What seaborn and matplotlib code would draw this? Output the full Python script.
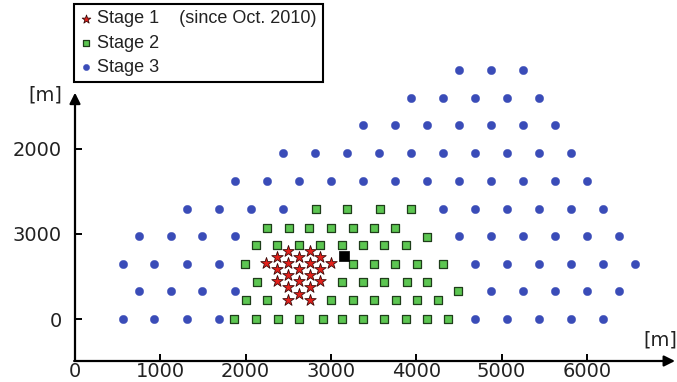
import numpy as np
import pandas as pd
import matplotlib
matplotlib.use("Agg")
import matplotlib.pyplot as plt
import seaborn as sns

# ---------------- data (metres) ----------------
# Stage 3 (blue circles): one list of x per row, row y values
stage3_rows_y = [2919, 2595, 2272, 1947, 1623, 1297, 970, 648, 326, 0]
stage3_rows_x = [
    [4505, 4877, 5248],
    [3939, 4318, 4689, 5068, 5443],
    [3373, 3751, 4130, 4505, 4877, 5252, 5627],
    [2435, 2814, 3192, 3564, 3939, 4318, 4689, 5068, 5443, 5815],
    [1876, 2251, 2626, 3001, 3376, 3751, 4126, 4502, 4877, 5252, 5627, 6002],
    [1317, 1688, 2063, 2435, 4318, 4689, 5068, 5443, 5815, 6190],
    [750, 1122, 1493, 1876, 4505, 4877, 5252, 5627, 6002, 6382],
    [563, 930, 1317, 1688, 4689, 5068, 5443, 5815, 6190, 6565],
    [750, 1122, 1493, 1876, 4877, 5252, 5627, 6002, 6382],
    [563, 930, 1317, 1688, 4693, 5068, 5443, 5815, 6190],
]

# Stage 2 (green squares)
stage2_rows_y = [1292, 1073, 967, 867, 648, 437, 331, 224, 0]
stage2_rows_x = [
    [2821, 3188, 3579, 3942],
    [2254, 2505, 2747, 3001, 3255, 3501, 3747],
    [4126],
    [2122, 2368, 2622, 2872, 3126, 3373, 3618, 3876],
    [1998, 3259, 3505, 3751, 4009, 4318],
    [2137, 3134, 3376, 3622, 3888, 4126],
    [4490],
    [2005, 2251, 3001, 3255, 3505, 3763, 4005, 4259],
    [1869, 2125, 2376, 2626, 2911, 3134, 3380, 3626, 3877, 4126, 4376],
]

# Stage 1 (red stars)
stage1_rows_y = [803, 733, 659, 589, 519, 445, 375, 296, 226]
stage1_rows_x = [
    [2497, 2751],
    [2368, 2622, 2876],
    [2243, 2497, 2751, 3005],
    [2368, 2622, 2876],
    [2497, 2751],
    [2368, 2622, 2876],
    [2497, 2751],
    [2622],
    [2497, 2751],
]

# black square
center_x = [3154]
center_y = [742]

y_ticks = [0, 1000, 2000]
y_tick_labels = ["0", "3000", "2000"]
x_ticks = [0, 1000, 2000, 3000, 4000, 5000, 6000]
x_tick_labels = ["0", "1000", "2000", "3000", "4000", "5000", "6000"]

legend_labels = ["Stage 1    (since Oct. 2010)", "Stage 2", "Stage 3"]


def rows_to_df(rows_y, rows_x, name):
    xs, ys = [], []
    for yv, xl in zip(rows_y, rows_x):
        xs.extend(xl)
        ys.extend([yv] * len(xl))
    return pd.DataFrame({"x": xs, "y": ys, "stage": name})


df1 = rows_to_df(stage1_rows_y, stage1_rows_x, "Stage 1")
df2 = rows_to_df(stage2_rows_y, stage2_rows_x, "Stage 2")
df3 = rows_to_df(stage3_rows_y, stage3_rows_x, "Stage 3")
dfc = pd.DataFrame({"x": center_x, "y": center_y})

# ---------------- figure ----------------
sns.set_theme(style="white")
plt.rcParams["font.family"] = ["DejaVu Sans"]

W, H = 677, 382
fig = plt.figure(figsize=(W / 100, H / 100), dpi=100)
ax = fig.add_axes([0, 0, 1, 1])

# pixel mapping: x=0 at px 75, 85.3 px / 1000 m ; y=0 at py 319.3, 85.4 px / 1000 m
px_per_m_x = 0.0853
px_per_m_y = 0.0854
x0_px, y0_py = 75.0, 319.3
ax.set_xlim((0 - x0_px) / px_per_m_x, (W - x0_px) / px_per_m_x)
ax.set_ylim((y0_py - H) / px_per_m_y, (y0_py - 0) / px_per_m_y)

sns.scatterplot(data=df3, x="x", y="y", ax=ax, marker="o", s=36,
                color="#3a4cb8", edgecolor="#3a4cb8", linewidth=0.3,
                label=legend_labels[2], zorder=3)
sns.scatterplot(data=df2, x="x", y="y", ax=ax, marker="s", s=32,
                color="#5cc651", edgecolor="#1f3d1a", linewidth=0.9,
                label=legend_labels[1], zorder=3)
sns.scatterplot(data=df1, x="x", y="y", ax=ax, marker="*", s=75,
                color="#e3201b", edgecolor="#3a0a08", linewidth=0.6,
                label=legend_labels[0], zorder=4)
sns.scatterplot(data=dfc, x="x", y="y", ax=ax, marker="s", s=52,
                color="black", edgecolor="black", linewidth=0.5,
                legend=False, zorder=5)

# axes lines with arrows
y_bottom = (y0_py - 361) / px_per_m_y
y_top = (y0_py - 92.7) / px_per_m_y
x_right = (675 - x0_px) / px_per_m_x
for sp in ax.spines.values():
    sp.set_visible(False)
ax.spines["left"].set_position(("data", 0))
ax.spines["bottom"].set_position(("data", y_bottom))
arrow_kw = dict(arrowstyle="-|>", lw=1.6, color="black", mutation_scale=16,
                shrinkA=0, shrinkB=0)
ax.annotate("", xy=(0, y_top), xytext=(0, y_bottom), arrowprops=arrow_kw)
ax.annotate("", xy=(x_right, y_bottom), xytext=(-10, y_bottom), arrowprops=arrow_kw)

ax.set_xticks(x_ticks)
ax.set_xticklabels(x_tick_labels)
ax.set_yticks(y_ticks)
ax.set_yticklabels(y_tick_labels)
ax.tick_params(axis="both", direction="in", length=5, width=1.4, color="black",
               labelsize=14, labelcolor="#222222")
ax.tick_params(axis="y", pad=9.5, left=True)
ax.tick_params(axis="x", pad=0.5, bottom=True)
ax.set_xlabel("")
ax.set_ylabel("")
ax.grid(False)

fig.text(62 / W, 1 - 95 / H, "[m]", ha="right", va="center", fontsize=14, color="#222222")
fig.text(643 / W, 1 - 340 / H, "[m]", ha="left", va="center", fontsize=14, color="#222222")

# legend
handles, labels = ax.get_legend_handles_labels()
order = [labels.index(l) for l in legend_labels]
leg = ax.legend([handles[i] for i in order], [labels[i] for i in order],
                loc="upper left", bbox_to_anchor=(74 / W, 1 - 4 / H),
                bbox_transform=fig.transFigure, borderaxespad=0,
                prop={"family": "Liberation Sans", "size": 13},
                frameon=True, fancybox=False, framealpha=1,
                edgecolor="black", handlelength=0.6, handletextpad=0.35,
                labelspacing=0.4, borderpad=0.35, markerscale=0.75)
leg.get_frame().set_linewidth(1.5)
for t in leg.get_texts():
    t.set_color("#222222")

fig.savefig("out.png", dpi=100)
